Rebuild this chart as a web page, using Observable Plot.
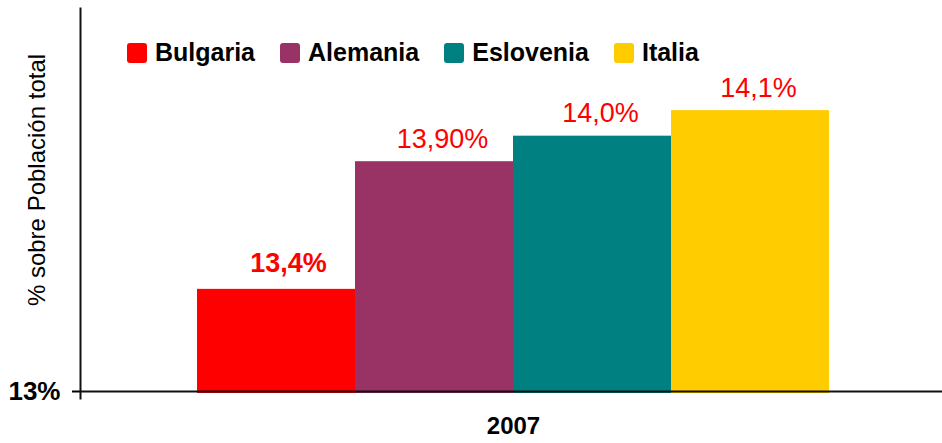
<!DOCTYPE html>
<html>
<head>
<meta charset="utf-8">
<script src="https://cdn.jsdelivr.net/npm/d3@7"></script>
<script src="https://cdn.jsdelivr.net/npm/@observablehq/plot@0.6"></script>
<style>
  html, body { margin: 0; padding: 0; background: #fff; }
  #wrap { position: relative; width: 942px; height: 443px; font-family: "Liberation Sans", Arial, sans-serif; }
  #legend { position: absolute; left: 127px; top: 38px; display: flex; align-items: center; }
  .item { display: flex; align-items: center; margin-right: 25px; font-weight: bold; font-size: 25px; color: #000; }
  .sw { width: 20px; height: 20px; border-radius: 3px; margin-right: 8px; }
</style>
</head>
<body>
<div id="wrap"></div>
<script>
const countries = ["Bulgaria", "Alemania", "Eslovenia", "Italia"];
const values = [13.4, 13.9, 14.0, 14.1];
const valueLabels = ["13,4%", "13,90%", "14,0%", "14,1%"];
const labelBold = [true, false, false, false];
const colors = ["#FF0000", "#993366", "#008080", "#FFCC00"];
const yTicks = [13];
const yDomain = [13, 14.5];
const yTitle = "% sobre Población total";
const year = "2007";

const data = countries.map((c, i) => ({country: c, value: values[i], label: valueLabels[i], bold: labelBold[i]}));

const chart = Plot.plot({
  width: 942,
  height: 443,
  marginLeft: 80,
  marginRight: 0,
  marginTop: 8,
  marginBottom: 52,
  style: {fontFamily: "'Liberation Sans', Arial, sans-serif", background: "#fff"},
  x: {domain: countries, paddingInner: 0, paddingOuter: 0.72, align: 0.51, axis: null},
  y: {domain: yDomain, axis: null},
  color: {domain: countries, range: colors},
  marks: [
    Plot.barY(data, {x: "country", y1: yDomain[0], y2: "value", fill: "country", insetBottom: -2}),
    Plot.text(data.filter(d => d.bold), {x: "country", y: "value", text: "label", fill: "#FF0000", fontSize: 27, fontWeight: "bold", lineAnchor: "bottom", dy: -17, dx: 12}),
    Plot.text(data.filter(d => !d.bold), {x: "country", y: "value", text: "label", fill: "#FF0000", fontSize: 27, lineAnchor: "bottom", dy: -14, dx: 8}),
    Plot.axisY(yTicks, {tickSize: 8, tickPadding: 12, tickFormat: d => d + "%", fontSize: 26, fontWeight: "bold", label: null, stroke: "#000", strokeWidth: 2, fill: "#000"}),
    Plot.ruleY(yTicks, {stroke: "#111", strokeWidth: 2}),
    Plot.frame({anchor: "left", stroke: "#111", strokeWidth: 2, insetBottom: -7}),
    Plot.text([yTitle], {frameAnchor: "left", textAnchor: "middle", rotate: -90, dx: -43, dy: -20, fontSize: 24, fill: "#000"}),
    Plot.text([year], {frameAnchor: "bottom", dy: 42, dx: 2, fontSize: 24, fontWeight: "bold", fill: "#000"})
  ]
});

const wrap = document.getElementById("wrap");
wrap.appendChild(chart);

const legend = document.createElement("div");
legend.id = "legend";
countries.forEach((c, i) => {
  const item = document.createElement("div");
  item.className = "item";
  const sw = document.createElement("div");
  sw.className = "sw";
  sw.style.background = colors[i];
  const t = document.createElement("span");
  t.textContent = c;
  item.appendChild(sw);
  item.appendChild(t);
  legend.appendChild(item);
});
wrap.appendChild(legend);
</script>
</body>
</html>
